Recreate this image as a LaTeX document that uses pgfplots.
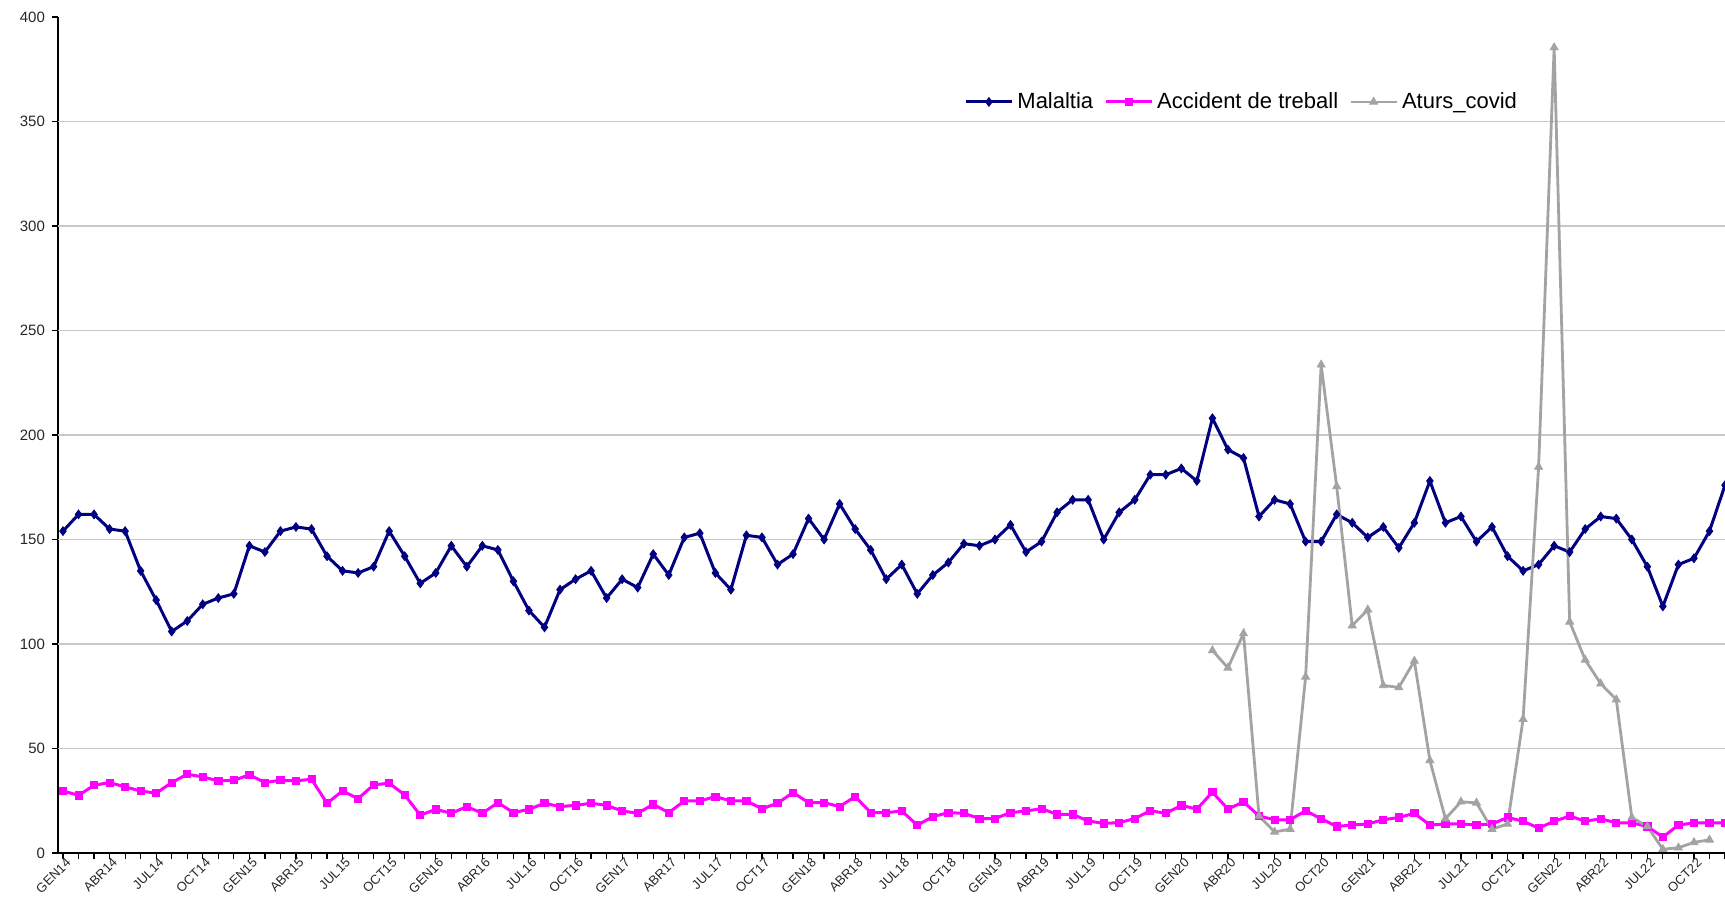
\documentclass[border=0pt]{standalone}
\usepackage{fontspec}
\setmainfont{Liberation Sans}
\usepackage{pgfplots}
\pgfplotsset{compat=1.18}
\usepackage{pgfplotstable}
\definecolor{malcol}{RGB}{0,0,128}
\definecolor{acccol}{RGB}{255,0,255}
\definecolor{covcol}{RGB}{163,163,163}
\definecolor{gridcol}{RGB}{200,200,200}

% mes (0 = GEN14), Malaltia, Accident de treball, Aturs_covid
\pgfplotstableread{
idx mal acc cov
0 154 29.7 nan
1 162 27.6 nan
2 162 32.4 nan
3 155 33.7 nan
4 154 31.6 nan
5 135 29.7 nan
6 121 28.6 nan
7 106 33.7 nan
8 111 37.7 nan
9 119 36.4 nan
10 122 34.5 nan
11 124 34.8 nan
12 147 37.4 nan
13 144 33.7 nan
14 154 34.8 nan
15 156 34.5 nan
16 155 35.3 nan
17 142 23.8 nan
18 135 29.7 nan
19 134 26.0 nan
20 137 32.6 nan
21 154 33.4 nan
22 142 27.8 nan
23 129 18.1 nan
24 134 20.9 nan
25 147 19.0 nan
26 137 22.2 nan
27 147 19.0 nan
28 145 24.1 nan
29 130 19.3 nan
30 116 20.9 nan
31 108 23.8 nan
32 126 22.2 nan
33 131 22.8 nan
34 135 23.8 nan
35 122 22.8 nan
36 131 20.1 nan
37 127 19.0 nan
38 143 23.3 nan
39 133 19.3 nan
40 151 24.9 nan
41 153 24.9 nan
42 134 27.0 nan
43 126 24.9 nan
44 152 24.9 nan
45 151 21.2 nan
46 138 23.8 nan
47 143 28.9 nan
48 160 24.1 nan
49 150 24.1 nan
50 167 22.2 nan
51 155 27.0 nan
52 145 19.3 nan
53 131 19.3 nan
54 138 20.1 nan
55 124 13.3 nan
56 133 17.4 nan
57 139 19.3 nan
58 148 19.0 nan
59 147 16.5 nan
60 150 16.5 nan
61 157 19.3 nan
62 144 20.1 nan
63 149 21.2 nan
64 163 18.5 nan
65 169 18.5 nan
66 169 15.3 nan
67 150 14.2 nan
68 163 14.5 nan
69 169 16.5 nan
70 181 20.2 nan
71 181 19.0 nan
72 184 22.8 nan
73 178 21.0 nan
74 208 29.1 96.9
75 193 21.0 88.6
76 189 24.5 105.0
77 161 17.7 17.7
78 169 15.9 10.1
79 167 15.9 11.4
80 149 20.2 84.3
81 149 16.4 233.6
82 162 12.7 175.4
83 158 13.4 108.8
84 151 13.9 116.4
85 156 15.9 80.2
86 146 17.0 79.2
87 158 19.0 91.9
88 178 13.4 44.3
89 158 13.9 16.4
90 161 13.9 24.5
91 149 13.4 24.0
92 156 13.9 11.4
93 142 17.0 13.9
94 135 15.2 64.0
95 138 11.9 184.7
96 147 15.2 385.4
97 144 17.7 110.6
98 155 15.2 92.4
99 161 16.4 81.0
100 160 14.4 73.4
101 150 14.4 17.0
102 137 12.7 12.7
103 118 7.6 1.8
104 138 13.4 2.5
105 141 14.4 5.1
106 154 14.4 6.3
107 176 14.4 nan
}\dades

\begin{document}
\begin{tikzpicture}
\begin{axis}[
    scale only axis,
    width=833.5pt, height=418pt,
    xmin=-0.32, xmax=107,
    ymin=0, ymax=400,
    axis x line*=bottom, axis y line*=left,
    axis line style={-, black, line width=0.8pt},
    ytick={0,50,...,400},
    xtick={0,3,...,105},
    xticklabels={GEN14,ABR14,JUL14,OCT14,GEN15,ABR15,JUL15,OCT15,GEN16,ABR16,JUL16,OCT16,GEN17,ABR17,JUL17,OCT17,GEN18,ABR18,JUL18,OCT18,GEN19,ABR19,JUL19,OCT19,GEN20,ABR20,JUL20,OCT20,GEN21,ABR21,JUL21,OCT21,GEN22,ABR22,JUL22,OCT22},
    minor xtick={0,1,...,107},
    tick align=outside,
    major tick length=3pt, minor tick length=3pt,
    tick style={black, line width=0.6pt},
    extra y ticks={50,100,...,350},
    extra y tick labels={},
    extra y tick style={grid=major, major tick length=0pt},
    major grid style={gridcol, line width=0.6pt},
    /pgf/number format/assume math mode=true,
    yticklabel style={font=\fontsize{7.5}{9}\selectfont, text=black!85},
    xticklabel style={font=\fontsize{6.5}{7}\selectfont, rotate=45, anchor=north east,
        inner sep=1pt, yshift=1pt, xshift=2.5pt, text=black!85},
    legend columns=3,
    legend style={at={(0.5435,0.915)}, anchor=north west, draw=none, fill=none,
        font=\fontsize{11}{13}\selectfont, inner sep=0pt,
        /tikz/every even column/.append style={column sep=3.5pt}},
    legend image code/.code={\draw[mark repeat=2, mark phase=2, #1]
        plot coordinates {(0pt,0pt) (11.5pt,0pt) (23pt,0pt)};},
]
\addplot[malcol, line width=1.5pt, mark=diamond*, mark size=2.2pt,
    mark options={line width=0.4pt}] table[x=idx, y=mal] {\dades};
\addlegendentry{Malaltia}
\addplot[acccol, line width=1.5pt, mark=square*, mark size=1.8pt,
    mark options={line width=0.4pt}] table[x=idx, y=acc] {\dades};
\addlegendentry{Accident de treball}
\addplot[covcol, line width=1.4pt, mark=triangle*, mark size=2.3pt,
    mark options={line width=0.4pt}] table[x=idx, y=cov] {\dades};
\addlegendentry{Aturs\_covid}
\end{axis}
\pgfresetboundingbox
\path[use as bounding box] (-29pt,-23.5pt) rectangle (833.5pt,426.5pt);
\end{tikzpicture}
\end{document}
